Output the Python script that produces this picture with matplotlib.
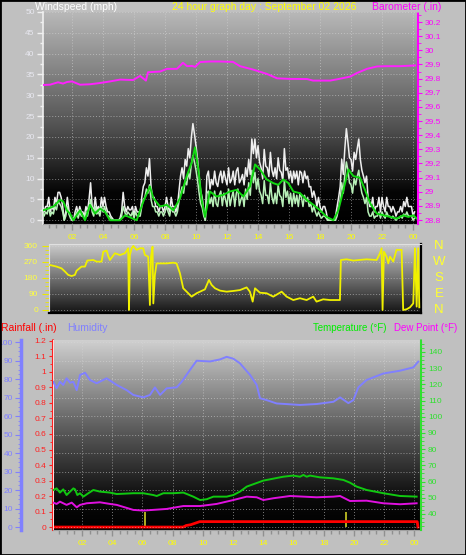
import numpy as np
import matplotlib
matplotlib.use('Agg')
import matplotlib.pyplot as plt
from matplotlib.colors import LinearSegmentedColormap
from matplotlib.ticker import FixedLocator, MultipleLocator, FuncFormatter
from matplotlib.patches import Rectangle

W, H = 466, 555
FONT = ['Liberation Sans', 'DejaVu Sans']
plt.rcParams['font.family'] = FONT

# ---------------- data ----------------
hour_ticks = [2, 4, 6, 8, 10, 12, 14, 16, 18, 20, 22, 24]
hour_labels = ['02', '04', '06', '08', '10', '12', '14', '16', '18', '20', '22', '00']

# wind samples every 0.1 h starting at 0.1 h
wind_start, wind_step = 0.1, 0.1
wind_gust = [
    3.3, 2.0, 3.3, 3.3, 5.5, 2.0, 3.3, 2.5, 5.5, 4.0,
    6.7, 6.7, 5.5, 3.3, 0.0, 2.0, 5.5, 2.5, 1.0, 0.0,
    0.0, 2.0, 3.3, 1.5, 3.3, 2.0, 2.0, 1.0, 3.3, 2.0,
    5.0, 9.0, 3.3, 2.0, 5.5, 2.5, 3.3, 2.0, 5.5, 3.3,
    5.5, 3.3, 2.0, 2.0, 1.0, 0.5, 0.0, 0.0, 0.0, 0.0,
    0.5, 2.0, 6.7, 3.3, 2.0, 3.3, 2.5, 2.5, 3.3, 1.0,
    3.3, 2.0, 2.0, 2.0, 5.5, 8.1, 9.0, 12.6, 10.6, 14.8,
    8.0, 5.5, 5.5, 3.3, 3.3, 2.0, 3.3, 3.3, 2.0, 3.3,
    5.5, 3.3, 2.0, 5.5, 3.3, 3.3, 2.0, 3.3, 7.0, 10.6,
    12.6, 10.0, 14.6, 13.0, 17.2, 15.0, 19.9, 23.2, 20.7, 17.9,
    14.6, 10.6, 7.0, 5.5, 2.4, 0.0, 10.6, 11.8, 7.5, 9.8,
    8.5, 11.8, 9.0, 8.1, 10.5, 11.8, 9.0, 11.8, 10.0, 8.5,
    12.6, 9.0, 9.8, 11.8, 8.5, 11.8, 12.6, 9.0, 9.8, 11.0,
    8.5, 12.6, 10.5, 14.6, 11.0, 19.5, 16.0, 19.5, 15.0, 17.9,
    14.0, 12.6, 10.0, 17.0, 13.0, 12.6, 10.5, 16.3, 12.0, 10.5,
    12.6, 10.0, 15.0, 12.0, 11.5, 9.5, 17.2, 12.0, 12.6, 10.0,
    11.8, 9.0, 11.8, 10.0, 11.8, 8.5, 11.8, 11.4, 9.0, 11.8,
    10.0, 10.6, 8.0, 8.1, 5.5, 7.0, 5.5, 3.3, 5.5, 3.3,
    2.0, 3.3, 3.3, 2.0, 0.0, 0.0, 0.0, 0.0, 0.0, 1.0,
    3.3, 5.5, 8.1, 14.6, 11.0, 17.2, 22.0, 18.7, 15.0, 14.6,
    11.8, 16.3, 14.6, 17.2, 19.5, 14.6, 12.0, 10.6, 9.0, 10.6,
    5.5, 3.3, 3.3, 5.5, 2.0, 3.3, 3.3, 5.5, 2.0, 5.5,
    3.3, 2.0, 5.5, 3.3, 3.3, 2.0, 3.3, 2.4, 1.0, 2.0,
    2.0, 3.3, 2.0, 4.5, 3.3, 5.5, 3.3, 3.3, 3.3, 1.0,
    2.0]
wind_avg = [
    2.0, 1.0, 2.0, 1.5, 3.3, 1.0, 2.0, 1.5, 3.3, 2.5,
    4.5, 4.0, 3.3, 2.0, 0.0, 1.0, 3.3, 1.5, 0.5, 0.0,
    0.0, 1.0, 2.0, 0.5, 2.0, 1.0, 1.0, 0.5, 2.0, 1.0,
    3.0, 5.0, 2.0, 1.0, 3.3, 1.5, 2.0, 1.0, 3.3, 2.0,
    3.3, 2.0, 1.0, 1.0, 0.5, 0.0, 0.0, 0.0, 0.0, 0.0,
    0.0, 1.0, 3.3, 2.0, 1.0, 2.0, 1.5, 1.0, 2.0, 0.5,
    2.0, 1.0, 1.0, 1.0, 3.3, 5.0, 5.5, 7.5, 6.5, 8.5,
    5.0, 3.3, 3.3, 2.0, 2.0, 1.0, 2.0, 2.0, 1.0, 2.0,
    3.3, 2.0, 1.0, 3.3, 2.0, 2.0, 1.0, 2.0, 4.5, 6.5,
    8.0, 6.5, 9.5, 8.5, 11.5, 10.0, 13.5, 15.5, 14.0, 12.0,
    9.5, 6.5, 4.0, 3.0, 1.0, 0.0, 6.5, 7.0, 4.0, 5.5,
    3.3, 7.0, 4.0, 3.3, 6.0, 7.0, 3.5, 6.5, 5.0, 3.3,
    7.5, 3.5, 5.5, 7.0, 3.3, 6.5, 7.5, 3.5, 5.0, 6.0,
    3.3, 7.5, 5.0, 9.0, 6.0, 12.0, 9.0, 11.5, 7.5, 10.0,
    7.0, 6.0, 4.0, 9.5, 6.0, 6.0, 4.0, 9.0, 5.5, 4.0,
    6.5, 4.0, 8.5, 6.0, 5.5, 3.3, 9.5, 5.5, 7.0, 4.0,
    6.5, 3.3, 6.5, 4.0, 6.0, 3.3, 6.5, 5.5, 3.3, 6.0,
    4.5, 5.5, 3.3, 4.0, 2.0, 3.3, 2.0, 1.0, 2.0, 1.0,
    0.5, 1.0, 1.0, 0.5, 0.0, 0.0, 0.0, 0.0, 0.0, 0.0,
    1.0, 3.0, 5.0, 9.0, 6.5, 11.0, 14.0, 12.0, 9.0, 8.5,
    6.5, 10.0, 8.5, 10.5, 12.0, 8.5, 6.5, 5.5, 4.0, 5.5,
    2.0, 1.0, 1.0, 2.0, 0.5, 1.0, 1.0, 2.0, 0.5, 2.0,
    1.0, 0.5, 2.0, 1.0, 1.0, 0.5, 1.0, 0.5, 0.0, 0.5,
    0.5, 1.0, 0.5, 1.5, 1.0, 2.0, 1.0, 1.0, 1.0, 0.0,
    0.5]

smooth_hours = [0.15, 0.47, 0.80, 1.23, 1.44, 1.66, 1.87, 2.09, 2.52, 2.84, 3.16, 3.48, 3.81,
                4.13, 4.45, 5.10, 5.42, 5.74, 6.17, 6.60, 7.03, 7.25, 7.68, 8.11, 8.54, 8.97,
                9.40, 9.72, 9.94, 10.15, 10.37, 10.58, 10.90, 11.33, 11.76, 12.19, 12.62, 13.05,
                13.48, 13.81, 14.13, 14.56, 14.99, 15.31, 15.63, 15.96, 16.28, 16.71, 17.14,
                17.57, 18.00, 18.43, 18.86, 19.18, 19.51, 19.83, 20.15, 20.58, 20.90, 21.23,
                21.66, 22.09, 22.52, 22.94, 23.37, 23.70, 24.02, 24.24]
smooth_wind = [2.4, 2.8, 3.3, 4.9, 4.5, 2.4, 1.6, 0.0, 2.4, 0.0, 3.7, 1.6, 2.8,
               2.0, 0.0, 0.0, 1.2, 0.7, 0.0, 4.5, 8.1, 5.3, 3.3, 3.7, 2.4, 5.3,
               10.6, 13.8, 17.5, 12.2, 4.9, 0.8, 6.9, 5.7, 6.1, 6.9, 7.3, 5.7,
               8.1, 13.4, 12.2, 9.8, 8.9, 8.5, 9.8, 8.9, 6.9, 6.5, 4.9,
               3.7, 2.4, 0.8, 0.0, 2.4, 7.3, 12.2, 10.6, 10.2, 7.3, 4.1,
               1.6, 1.2, 0.8, 0.4, 1.2, 0.8, 1.2, 0.4]

baro_hours = [0.13, 0.58, 1.10, 1.42, 1.68, 2.00, 2.52, 3.16, 3.81, 4.45, 5.10, 5.94, 6.39,
              6.77, 6.90, 7.68, 8.13, 8.77, 9.16, 9.42, 9.74, 9.94, 10.26, 10.90, 11.55,
              12.39, 12.84, 13.68, 14.58, 15.23, 16.06, 17.16, 17.55, 18.65, 19.10, 19.94,
              20.39, 21.03, 21.68, 22.32, 23.16, 24.13]
baro = [29.755, 29.757, 29.774, 29.765, 29.776, 29.780, 29.757, 29.760, 29.769, 29.780,
        29.793, 29.790, 29.819, 29.786, 29.845, 29.850, 29.869, 29.869, 29.912, 29.888,
        29.890, 29.883, 29.917, 29.921, 29.921, 29.918, 29.888, 29.864, 29.833, 29.802,
        29.798, 29.797, 29.786, 29.786, 29.795, 29.814, 29.840, 29.869, 29.886, 29.888,
        29.888, 29.893]

dir_hours = [0.58, 1.01, 1.33, 1.55, 1.76, 1.98, 2.19, 2.30, 2.62, 2.84, 2.99, 3.38, 3.59,
             3.91, 4.02, 4.24, 4.34, 4.45, 4.77, 5.10, 5.42, 5.63, 5.68, 5.74, 5.85, 5.96,
             6.17, 6.39, 6.60, 6.71, 6.92, 7.03, 7.10, 7.20, 7.25, 7.35, 7.46, 7.68, 8.11,
             8.54, 8.75, 8.97, 9.18, 9.40, 9.72, 10.04, 10.26, 10.58, 10.84, 11.01, 11.23,
             11.55, 11.98, 12.41, 12.84, 13.27, 13.48, 13.66, 13.81, 14.13, 14.56, 14.99,
             15.53, 15.85, 16.28, 16.71, 17.14, 17.57, 17.78, 18.21, 18.64, 19.29, 19.35,
             19.72, 20.15, 21.01, 21.66, 21.87, 21.98, 22.04, 22.13, 22.30, 22.41, 22.52,
             22.73, 22.94, 23.27, 23.37, 23.59, 23.81, 24.02, 24.09, 24.13, 24.24, 24.34,
             24.41]
wind_dir = [253, 244, 234, 216, 197, 191, 197, 221, 244, 244, 278, 281, 272,
            272, 328, 334, 304, 281, 319, 309, 319, 347, 0, 309, 347, 360,
            338, 347, 347, 309, 300, 28, 300, 356, 37, 197, 262, 262, 262,
            266, 262, 206, 122, 103, 75, 94, 103, 116, 169, 141, 122,
            109, 103, 107, 112, 127, 103, 47, 122, 97, 94, 75,
            103, 75, 56, 66, 56, 75, 47, 60, 56, 56, 281,
            285, 278, 285, 281, 319, 347, 0, 328, 300, 262, 300,
            272, 338, 338, 0, 4, 15, 37, 225, 347, 19, 347,
            15]
dir_ticks = [0, 90, 180, 270, 360]
compass = ['N', 'E', 'S', 'W', 'N']

temp_hours = [0.10, 0.32, 0.54, 0.76, 0.98, 1.21, 1.43, 1.54, 1.69, 1.87, 2.09, 2.42, 2.75,
              3.19, 3.85, 4.30, 5.40, 6.06, 6.72, 6.95, 7.39, 8.05, 8.71, 9.37, 9.82, 10.26,
              10.70, 11.58, 12.02, 12.46, 12.91, 14.01, 15.33, 15.98, 16.44, 16.66, 16.88,
              17.10, 17.76, 18.65, 19.31, 19.75, 20.19, 20.85, 21.96, 23.06, 24.16]
temperature = [54.8, 55.8, 53.2, 55.2, 51.7, 53.8, 55.8, 55.2, 51.7, 52.8, 50.7, 52.8, 54.8,
               53.8, 53.2, 52.3, 52.8, 52.8, 51.7, 51.1, 52.8, 52.8, 53.2, 50.7, 48.6, 49.1,
               50.7, 50.7, 51.7, 53.8, 56.9, 60.6, 63.0, 63.7, 63.0, 64.1, 63.0,
               63.7, 62.6, 62.0, 61.0, 59.3, 56.9, 54.8, 52.8, 51.1, 50.7]

dew_hours = [0.10, 0.32, 0.54, 0.98, 1.32, 1.65, 1.87, 2.31, 3.19, 3.85, 4.30, 5.40, 6.06,
             7.61, 8.71, 9.82, 10.92, 12.02, 12.91, 13.57, 14.01, 14.67, 15.78, 17.54,
             18.65, 19.09, 19.75, 20.85, 21.96, 23.06, 24.16]
dew_point = [47.0, 46.2, 47.6, 45.6, 47.0, 44.1, 45.6, 46.6, 47.2, 46.2, 45.6, 42.5, 42.1,
             43.1, 44.9, 44.9, 46.2, 48.6, 50.7, 50.3, 48.6, 49.7, 51.1, 50.3,
             50.7, 51.1, 48.0, 48.2, 46.6, 46.0, 46.6]

hum_hours = [0.10, 0.32, 0.54, 0.76, 0.98, 1.21, 1.43, 1.65, 1.87, 2.20, 2.53, 2.97, 3.63,
             4.30, 4.96, 5.40, 6.06, 6.50, 6.83, 7.17, 7.61, 8.27, 8.60, 9.15, 9.59, 10.48,
             11.14, 11.58, 12.02, 12.46, 13.13, 13.57, 13.79, 14.23, 14.89, 16.44, 17.54,
             18.65, 19.09, 19.64, 19.97, 20.30, 20.85, 21.96, 23.06, 23.94, 24.27]
humidity = [78.5, 75.0, 78.5, 76.8, 80.4, 78.0, 78.5, 74.0, 82.2, 83.4, 79.5, 77.7, 80.4,
            76.8, 74.0, 71.4, 70.1, 71.4, 75.5, 71.4, 75.0, 75.5, 78.5, 84.9, 89.9, 89.5,
            90.6, 92.0, 91.0, 88.5, 82.2, 76.8, 69.6, 68.6, 66.8, 66.0, 66.5,
            67.7, 70.1, 67.0, 68.6, 75.5, 79.5, 83.0, 84.5, 86.3, 89.4]

rain_hours = [0.08, 8.70, 8.90, 9.20, 9.50, 9.80, 24.20, 24.25]
rainfall = [0.0, 0.0, 0.010, 0.015, 0.025, 0.035, 0.035, 0.0]

rate_hours = [6.17, 19.46]
rain_rate = [0.10, 0.10]

# ---------------- figure ----------------
fig = plt.figure(figsize=(W / 100, H / 100), dpi=100, facecolor='#c0c0c0')


def box(l, t, r, b):
    return fig.add_axes([l / W, 1 - b / H, (r - l) / W, (b - t) / H])


def gradient(ax, stops):
    cmap = LinearSegmentedColormap.from_list('g', stops)
    x0, x1 = ax.get_xlim()
    y0, y1 = ax.get_ylim()
    g = np.linspace(0, 1, 256).reshape(-1, 1)
    ax.imshow(g, cmap=cmap, extent=[x0, x1, y0, y1], aspect='auto',
              origin='upper', zorder=0, interpolation='bilinear')
    ax.set_xlim(x0, x1)
    ax.set_ylim(y0, y1)


GRID = dict(color='#d8d8d8', linestyle=(0, (1, 2)), linewidth=0.7, alpha=0.55)
TS = 6

# ---- panel 1 : wind + barometer ----
ax1 = box(43, 12, 418, 224)
ax1.set_xlim(0.13, 24.32)
ax1.set_ylim(-0.9, 50)
gradient(ax1, [(0, '#b8b8b8'), (0.55, '#505050'), (0.85, '#050505'), (1, '#000000')])
ax1.set_axisbelow(True)
wh = wind_start + wind_step * np.arange(len(wind_gust))
ax1.plot(wh, wind_gust, color='#eeeeee', lw=1.1, zorder=3)
ax1.plot(wh, wind_avg, color='#b8f0b8', lw=1.1, zorder=4)
ax1.plot(smooth_hours, smooth_wind, color='#10d810', lw=1.4, zorder=5)
ax1.yaxis.set_major_locator(MultipleLocator(5))
ax1.yaxis.set_minor_locator(MultipleLocator(2.5))
ax1.xaxis.set_major_locator(FixedLocator(hour_ticks))
ax1.xaxis.set_minor_locator(MultipleLocator(0.5))
ax1.set_xticklabels(hour_labels)
ax1.tick_params(axis='y', which='both', colors='#f0f0f0', labelcolor='#e8e8f0',
                labelsize=TS, length=4, width=1, pad=2)
ax1.tick_params(axis='y', which='minor', length=2)
ax1.tick_params(axis='x', which='both', color='#909090', labelcolor='#ffff00',
                labelsize=TS, length=4, width=1, pad=3)
ax1.tick_params(axis='x', which='minor', length=3)
ax1.grid(True, which='major', **GRID)
ax1.spines['top'].set_visible(False)
ax1.spines['right'].set_visible(False)
ax1.spines['left'].set_color('#f0f0f0')
ax1.spines['left'].set_linewidth(1.2)
ax1.spines['bottom'].set_color('#a0a0a0')

ax1b = ax1.twinx()
ax1b.set_ylim(28.772, 30.271)
ax1b.plot(baro_hours, baro, color='#ff20ff', lw=1.4, zorder=3)
ax1b.yaxis.set_major_locator(MultipleLocator(0.1))
ax1b.yaxis.set_minor_locator(MultipleLocator(0.05))
ax1b.yaxis.set_major_formatter(FuncFormatter(lambda v, p: '%g' % round(v, 1)))
ax1b.tick_params(axis='y', which='both', colors='#ff00ff', labelsize=TS, length=3, pad=2)
ax1b.tick_params(axis='y', which='minor', length=2)
for s in ['top', 'left', 'bottom']:
    ax1b.spines[s].set_visible(False)
ax1b.spines['right'].set_color('#ff00ff')
ax1b.spines['right'].set_linestyle((0, (1, 1)))
ax1b.spines['right'].set_linewidth(1.5)

# ---- panel 2 : wind direction ----
ax2 = box(49, 244, 421, 313)
ax2.set_xlim(0.52, 24.52)
ax2.set_ylim(-17, 371)
gradient(ax2, [(0, '#cccccc'), (0.5, '#707070'), (1, '#141414')])
ax2.set_axisbelow(True)
ax2.plot(dir_hours, wind_dir, color='#f0f000', lw=1.3, zorder=3)
ax2.set_xticks([])
ax2.yaxis.set_major_locator(FixedLocator(dir_ticks))
ax2.yaxis.set_minor_locator(MultipleLocator(22.5))
ax2.tick_params(axis='y', which='both', colors='#e8e800', labelcolor='#ffff40',
                labelsize=TS, length=5, pad=3)
ax2.tick_params(axis='y', which='minor', length=3)
ax2.grid(True, axis='y', **GRID)
ax2.spines['bottom'].set_color('#000000')
ax2.spines['bottom'].set_linewidth(1.6)
ax2.spines['right'].set_color('#000000')
ax2.spines['right'].set_linewidth(1.6)
ax2.spines['top'].set_color('#e0e0e0')
ax2.spines['left'].set_color('#e0e0e0')
ytr = ax2.get_yaxis_transform()
for d, c in zip(dir_ticks, compass):
    ax2.text(1.048, d, c, transform=ytr, ha='center', va='center',
             color='#ffff30', fontsize=9.5)

# ---- panel 3 : temperature / humidity / rain ----
ax3 = box(53, 340, 421, 530)
ax3.set_xlim(0.08, 24.45)
ax3.set_ylim(-0.019, 1.206)
gradient(ax3, [(0, '#d0d0d0'), (0.45, '#606060'), (0.85, '#080808'), (1, '#000000')])
ax3.set_axisbelow(True)
ax3.vlines(rate_hours, 0, rain_rate, color='#b0b020', lw=1.4, zorder=3)
ax3.plot(rain_hours, rainfall, color='#ff0000', lw=2.0, zorder=4)
ax3.xaxis.set_major_locator(FixedLocator(hour_ticks))
ax3.xaxis.set_minor_locator(MultipleLocator(0.5))
ax3.set_xticklabels(hour_labels)
ax3.tick_params(axis='x', which='both', color='#909090', labelcolor='#ffff00',
                labelsize=TS, length=4, width=1, pad=3)
ax3.tick_params(axis='x', which='minor', length=3)
ax3.yaxis.set_major_locator(MultipleLocator(0.1))
ax3.yaxis.set_minor_locator(MultipleLocator(0.05))
ax3.yaxis.set_major_formatter(FuncFormatter(lambda v, p: '%g' % round(v, 1)))
ax3.tick_params(axis='y', which='both', colors='#ff2020', labelsize=TS, length=3, pad=2)
ax3.tick_params(axis='y', which='minor', length=2)
ax3.grid(True, axis='x', **GRID)
ax3.spines['left'].set_color('#ff2020')
ax3.spines['left'].set_linestyle((0, (1, 1)))
ax3.spines['left'].set_linewidth(1.5)
ax3.spines['top'].set_visible(False)
ax3.spines['right'].set_visible(False)
ax3.spines['bottom'].set_color('#a0a0a0')
ax3.axvline(ax3.get_xlim()[0], color='#ffffff', lw=1.2, zorder=5)

axh = ax3.twinx()
axh.set_ylim(-1.6, 101.1)
axh.plot(hum_hours, humidity, color='#8080ff', lw=1.4, zorder=3)
axh.yaxis.tick_left()
axh.spines['left'].set_position(('outward', 23))
axh.spines['left'].set_color('#8080ff')
axh.spines['left'].set_linewidth(2.5)
for s in ['top', 'right', 'bottom']:
    axh.spines[s].set_visible(False)
axh.yaxis.set_major_locator(MultipleLocator(10))
axh.yaxis.set_minor_locator(MultipleLocator(2.5))
axh.tick_params(axis='y', which='both', colors='#8080ff', labelsize=TS, length=4, pad=2)
axh.tick_params(axis='y', which='minor', length=2)
axh.grid(True, axis='y', **GRID)

axt = ax3.twinx()
axt.set_ylim(30.1, 147.4)
axt.plot(temp_hours, temperature, color='#10c810', lw=1.4, zorder=3)
axt.plot(dew_hours, dew_point, color='#e010e0', lw=1.4, zorder=3)
axt.yaxis.set_minor_locator(MultipleLocator(2.5))
axt.set_yticks([40, 50, 60, 70, 80, 90, 100, 110, 120, 130, 140])
axt.tick_params(axis='y', which='both', colors='#30e030', labelsize=TS, length=3, pad=2)
axt.tick_params(axis='y', which='minor', length=2)
for s in ['top', 'left', 'bottom']:
    axt.spines[s].set_visible(False)
axt.spines['right'].set_color('#30e030')
axt.spines['right'].set_linestyle((0, (1, 1)))
axt.spines['right'].set_linewidth(1.5)

# ---- header texts ----
def ftext(x, y, s, color, size=7.5):
    fig.text(x / W, 1 - y / H, s, color=color, fontsize=size, ha='left', va='baseline')


ftext(35, 10, 'Windspeed (mph)', '#ffffff')
ftext(172, 10, '24 hour graph day : September 02 2026', '#ffff00')
ftext(372, 10, 'Barometer (.in)', '#ff00ff')
ftext(1, 331, 'Rainfall (.in)', '#ff0000')
ftext(67, 331, 'Humidity', '#8080ff')
ftext(313, 331, 'Temperature (°F)', '#00ee00', 7.0)
ftext(394, 331, 'Dew Point (°F)', '#ff00ff', 7.0)

fig.patches.append(Rectangle((0, 0), 1, 1, transform=fig.transFigure, fill=False,
                             edgecolor='#000000', lw=2))

fig.savefig('out.png', dpi=100, facecolor=fig.get_facecolor())
